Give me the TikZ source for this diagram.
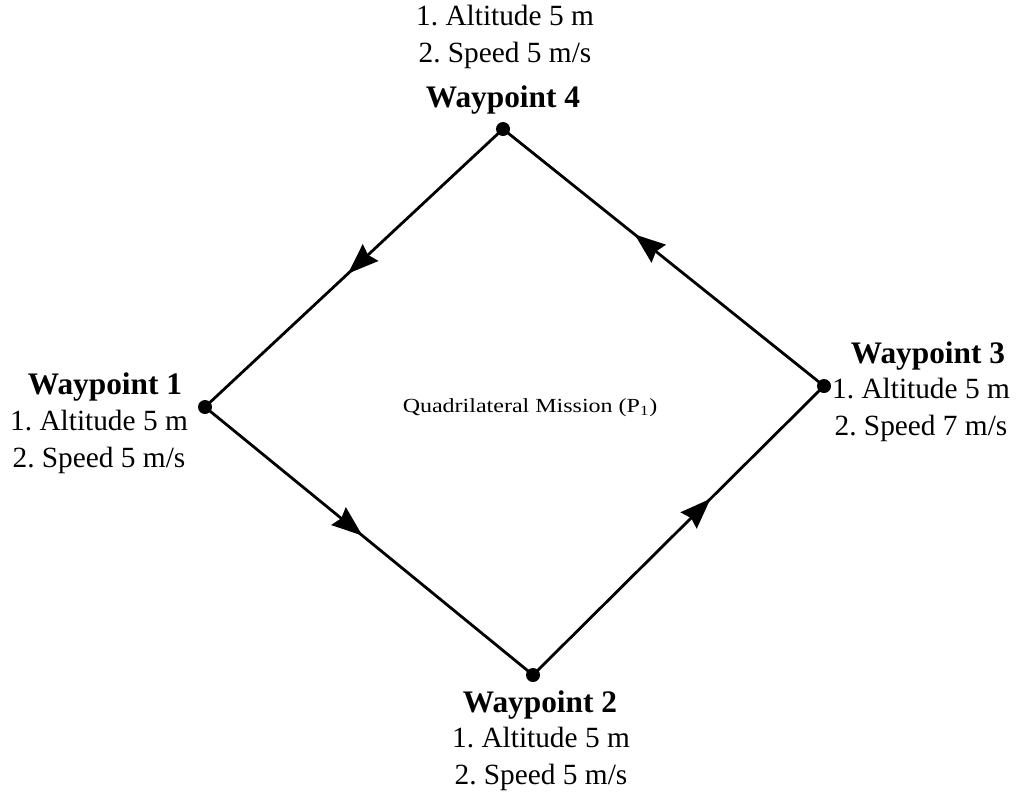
\documentclass[tikz,border=0pt]{standalone}
\usepackage{fontspec}
\setmainfont{Liberation Serif}
\usetikzlibrary{arrows.meta,decorations.markings}
\frenchspacing
\begin{document}
\begin{tikzpicture}[x=0.75pt,y=-0.75pt,
  wpdot/.style={circle,fill=black,inner sep=0pt,minimum size=10.5pt},
  wptitle/.style={font=\fontsize{23.5}{28}\selectfont\bfseries,inner sep=0pt},
  wpinfo/.style={font=\fontsize{22}{27.5}\selectfont,align=center,inner sep=0pt},
  leg/.style={line width=2.1pt,postaction={decorate},
    decoration={markings,mark=at position #1 with {\arrow{Stealth[length=23pt,width=17pt,inset=2.5pt]}}}}
]
\useasboundingbox (0,0) rectangle (1022,794);

% waypoints
\node[wpdot] (w4) at (503,129) {};
\node[wpdot] (w1) at (205,407) {};
\node[wpdot] (w2) at (533,675) {};
\node[wpdot] (w3) at (824,386) {};

% mission legs
\draw[leg=0.52] (w4.center) -- (w1.center);
\draw[leg=0.48] (w1.center) -- (w2.center);
\draw[leg=0.61] (w2.center) -- (w3.center);
\draw[leg=0.59] (w3.center) -- (w4.center);

% labels
\node[wptitle] (t4) at (503,100) {Waypoint 4};
\node[wpinfo] (d4) at (505,37) {1. Altitude 5 m\\2. Speed 5 m/s};

\node[wptitle] (t1) at (105,387) {Waypoint 1};
\node[wpinfo] (d1) at (99,442) {1. Altitude 5 m\\2. Speed 5 m/s};

\node[wptitle] (t3) at (928,356) {Waypoint 3};
\node[wpinfo] (d3) at (921,410) {1. Altitude 5 m\\2. Speed 7 m/s};

\node[wptitle] (t2) at (540,705) {Waypoint 2};
\node[wpinfo] (d2) at (541,759) {1. Altitude 5 m\\2. Speed 5 m/s};

\node[font=\fontsize{15}{18}\selectfont,inner sep=0pt] (mission) at (530,408)
  {\scalebox{1.2}[1]{Quadrilateral Mission (P\textsubscript{1})}};
\end{tikzpicture}
\end{document}
